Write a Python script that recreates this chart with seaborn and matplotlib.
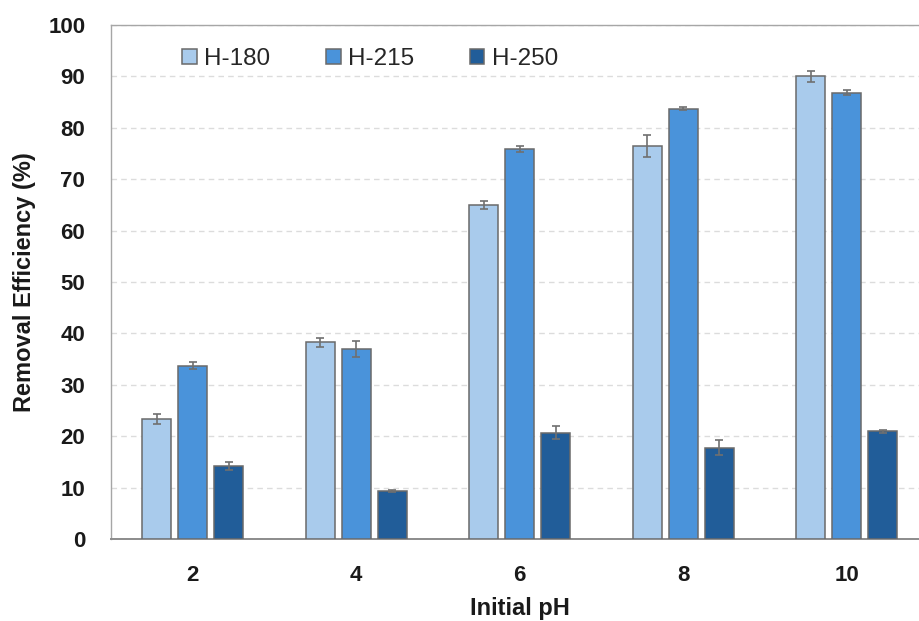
import numpy as np
import pandas as pd
import matplotlib
matplotlib.use("Agg")
import matplotlib.pyplot as plt
import seaborn as sns

# ── Data ─────────────────────────────────────────────────────────────────────
ph_levels = ["2", "4", "6", "8", "10"]
samples = ["H-180", "H-215", "H-250"]
h180 = [23.4, 38.3, 65.0, 76.5, 90.0]
h215 = [33.7, 37.0, 75.8, 83.7, 86.8]
h250 = [14.2, 9.3, 20.7, 17.8, 21.0]
err180 = [1.0, 0.9, 0.8, 2.1, 1.0]
err215 = [0.7, 1.5, 0.6, 0.3, 0.5]
err250 = [0.8, 0.2, 1.2, 1.5, 0.3]

COLORS = ["#A9CBEC", "#4A93DA", "#215D99"]

df = pd.DataFrame({
    "pH": ph_levels * 3,
    "Sample": [s for s in samples for _ in ph_levels],
    "Removal": h180 + h215 + h250,
    "Err": err180 + err215 + err250,
})

sns.set_theme(style="white")
plt.rcParams["font.family"] = ["Liberation Sans", "DejaVu Sans"]

fig = plt.figure(figsize=(9.19, 6.21), dpi=100)
# x range -0.5..4.5 spans 817.5 px, so the right spine sits just off the canvas
ax = fig.add_axes([0.1208, 0.132, 0.8896, 0.8277])

sns.barplot(data=df, x="pH", y="Removal", hue="Sample", order=ph_levels,
            hue_order=samples, palette=COLORS, saturation=1, width=0.66, gap=0.19,
            errorbar=None, edgecolor="#6a6a6a", linewidth=1.1, ax=ax,
            zorder=3)

# error bars at each bar's centre
for patch, (_, row) in zip(ax.patches, df.iterrows()):
    xc = patch.get_x() + patch.get_width() / 2
    ax.errorbar(xc, patch.get_height(), yerr=row["Err"], fmt="none",
                ecolor="#707070", elinewidth=1.2, capsize=3, capthick=1.2,
                zorder=4)

ax.set_xlim(-0.5, 4.5)
ax.set_ylim(0, 100)
ax.set_yticks(np.arange(0, 101, 10))
ax.yaxis.grid(True, linestyle=(0, (4, 3)), color="#dcdcdc", linewidth=1.0, zorder=0)
ax.xaxis.grid(False)

for side in ["left", "top", "right"]:
    ax.spines[side].set_color("#a6a6a6")
    ax.spines[side].set_linewidth(1.0)
ax.spines["bottom"].set_color("#8c8c8c")
ax.spines["bottom"].set_linewidth(1.4)

ax.tick_params(axis="both", length=0, labelsize=16, pad=18.5, colors="#1a1a1a")
for lab in ax.get_xticklabels() + ax.get_yticklabels():
    lab.set_fontweight("bold")

ax.set_xlabel("Initial pH", fontsize=17, fontweight="bold", color="#1a1a1a", labelpad=8)
ax.set_ylabel("Removal Efficiency (%)", fontsize=17, fontweight="bold", color="#1a1a1a", labelpad=9)

handles, labels = ax.get_legend_handles_labels()
ax.legend(handles, labels, ncol=3, loc="center left", bbox_to_anchor=(0.0869, 0.934),
          frameon=False, fontsize=17.5, handlelength=0.6, handleheight=0.6,
          handletextpad=0.3, columnspacing=2.3, borderpad=0, borderaxespad=0)

fig.savefig("out.png", dpi=100, facecolor="white")
